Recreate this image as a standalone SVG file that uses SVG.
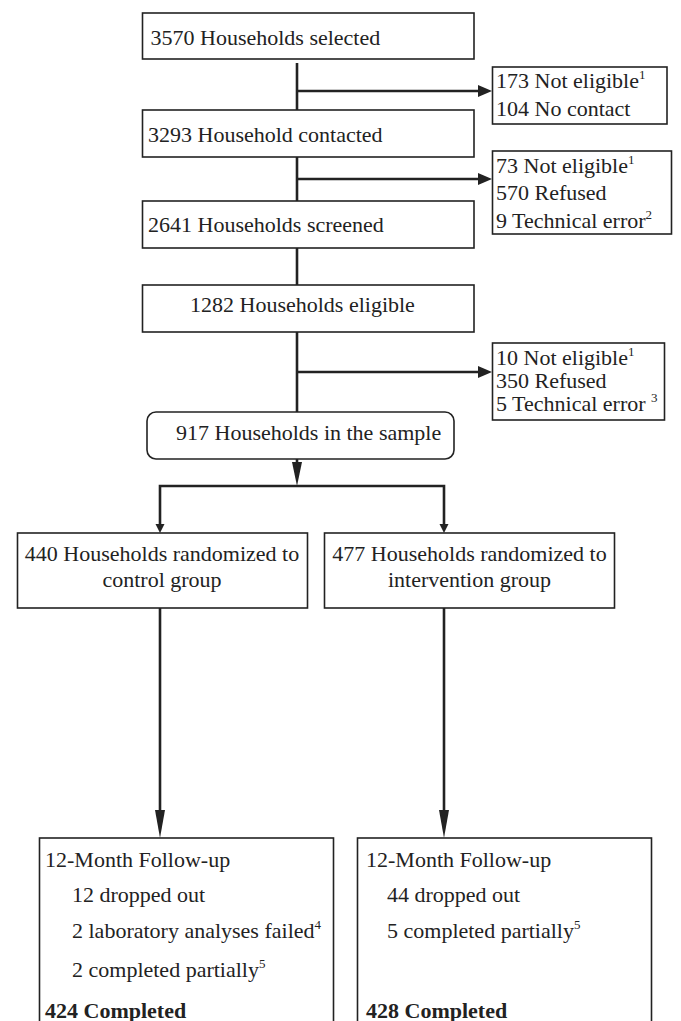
<svg xmlns="http://www.w3.org/2000/svg" width="681" height="1021" viewBox="0 0 681 1021">
<style>
.box{fill:#fff;stroke:#222;stroke-width:1.6}
.t{font-family:"Liberation Serif","Times New Roman",serif;font-size:22px;fill:#222}
.s{font-size:13px}
.b{font-weight:bold}
.ln{stroke:#222;stroke-width:2.6;fill:none}
.ah{fill:#222;stroke:none}
</style>
<rect width="681" height="1021" fill="#fff"/>
<g id="connectors">
<line class="ln" x1="297" y1="63" x2="297" y2="110"/>
<line class="ln" x1="297" y1="91" x2="480" y2="91"/>
<polygon class="ah" points="492,91 478,85 478,97"/>
<line class="ln" x1="297" y1="157" x2="297" y2="201"/>
<line class="ln" x1="297" y1="179" x2="480" y2="179"/>
<polygon class="ah" points="492,179 478,173 478,185"/>
<line class="ln" x1="297" y1="248" x2="297" y2="285"/>
<line class="ln" x1="297" y1="332" x2="297" y2="412"/>
<line class="ln" x1="297" y1="372" x2="480" y2="372"/>
<polygon class="ah" points="492,372 478,366 478,378"/>
<line class="ln" x1="297" y1="459" x2="297" y2="466"/>
<polygon class="ah" points="297,486 292,462 302,462"/>
<polyline class="ln" points="160,526 160,486 444,486 444,526"/>
<polygon class="ah" points="160,533 155.5,524 164.5,524"/>
<polygon class="ah" points="444,533 439.5,524 448.5,524"/>
<line class="ln" x1="160" y1="608" x2="160" y2="815"/>
<polygon class="ah" points="160,838 155,810 165,810"/>
<line class="ln" x1="444" y1="608" x2="444" y2="815"/>
<polygon class="ah" points="444,838 439,810 449,810"/>
</g>
<g id="n1"><rect class="box" x="142.5" y="13" width="331.5" height="46"/><text class="t" x="150.5" y="45">3570 Households selected</text></g>
<g id="n1x"><rect class="box" x="492.5" y="67" width="174.5" height="57"/><text class="t" x="496" y="88">173 Not eligible<tspan class="s" dy="-9">1</tspan></text><text class="t" x="496" y="116">104 No contact</text></g>
<g id="n2"><rect class="box" x="142.5" y="110" width="331.5" height="47"/><text class="t" x="148" y="142">3293 Household contacted</text></g>
<g id="n2x"><rect class="box" x="492.5" y="151" width="179" height="83"/><text class="t" x="496" y="173">73 Not eligible<tspan class="s" dy="-9">1</tspan></text><text class="t" x="496" y="200">570 Refused</text><text class="t" x="496" y="228">9 Technical error<tspan class="s" dy="-9">2</tspan></text></g>
<g id="n3"><rect class="box" x="142.5" y="201" width="331.5" height="47"/><text class="t" x="148" y="232">2641 Households screened</text></g>
<g id="n4"><rect class="box" x="142.5" y="285" width="331.5" height="47"/><text class="t" x="190" y="312">1282 Households eligible</text></g>
<g id="n4x"><rect class="box" x="492.5" y="343" width="172" height="77"/><text class="t" x="496" y="365">10 Not eligible<tspan class="s" dy="-9">1</tspan></text><text class="t" x="496" y="388">350 Refused</text><text class="t" x="496" y="411">5 Technical error <tspan class="s" dy="-9">3</tspan></text></g>
<g id="n5"><rect class="box" x="147" y="412" width="307" height="47" rx="9"/><text class="t" x="176" y="440">917 Households in the sample</text></g>
<g id="n6"><rect class="box" x="17.5" y="533" width="290" height="75"/><text class="t" x="162" y="561" text-anchor="middle">440 Households randomized to</text><text class="t" x="162" y="587" text-anchor="middle">control group</text></g>
<g id="n7"><rect class="box" x="324.5" y="533" width="290" height="75"/><text class="t" x="469.5" y="561" text-anchor="middle">477 Households randomized to</text><text class="t" x="469.5" y="587" text-anchor="middle">intervention group</text></g>
<g id="n8"><rect class="box" x="39.5" y="838" width="294" height="190"/><text class="t" x="45" y="867">12-Month Follow-up</text><text class="t" x="72" y="902">12 dropped out</text><text class="t" x="72" y="938">2 laboratory analyses failed<tspan class="s" dy="-9">4</tspan></text><text class="t" x="72" y="977">2 completed partially<tspan class="s" dy="-9">5</tspan></text><text class="t b" x="45" y="1018">424 Completed</text></g>
<g id="n9"><rect class="box" x="357.5" y="838" width="294" height="190"/><text class="t" x="366" y="867">12-Month Follow-up</text><text class="t" x="387" y="902">44 dropped out</text><text class="t" x="387" y="938">5 completed partially<tspan class="s" dy="-9">5</tspan></text><text class="t b" x="366" y="1018">428 Completed</text></g>
</svg>
